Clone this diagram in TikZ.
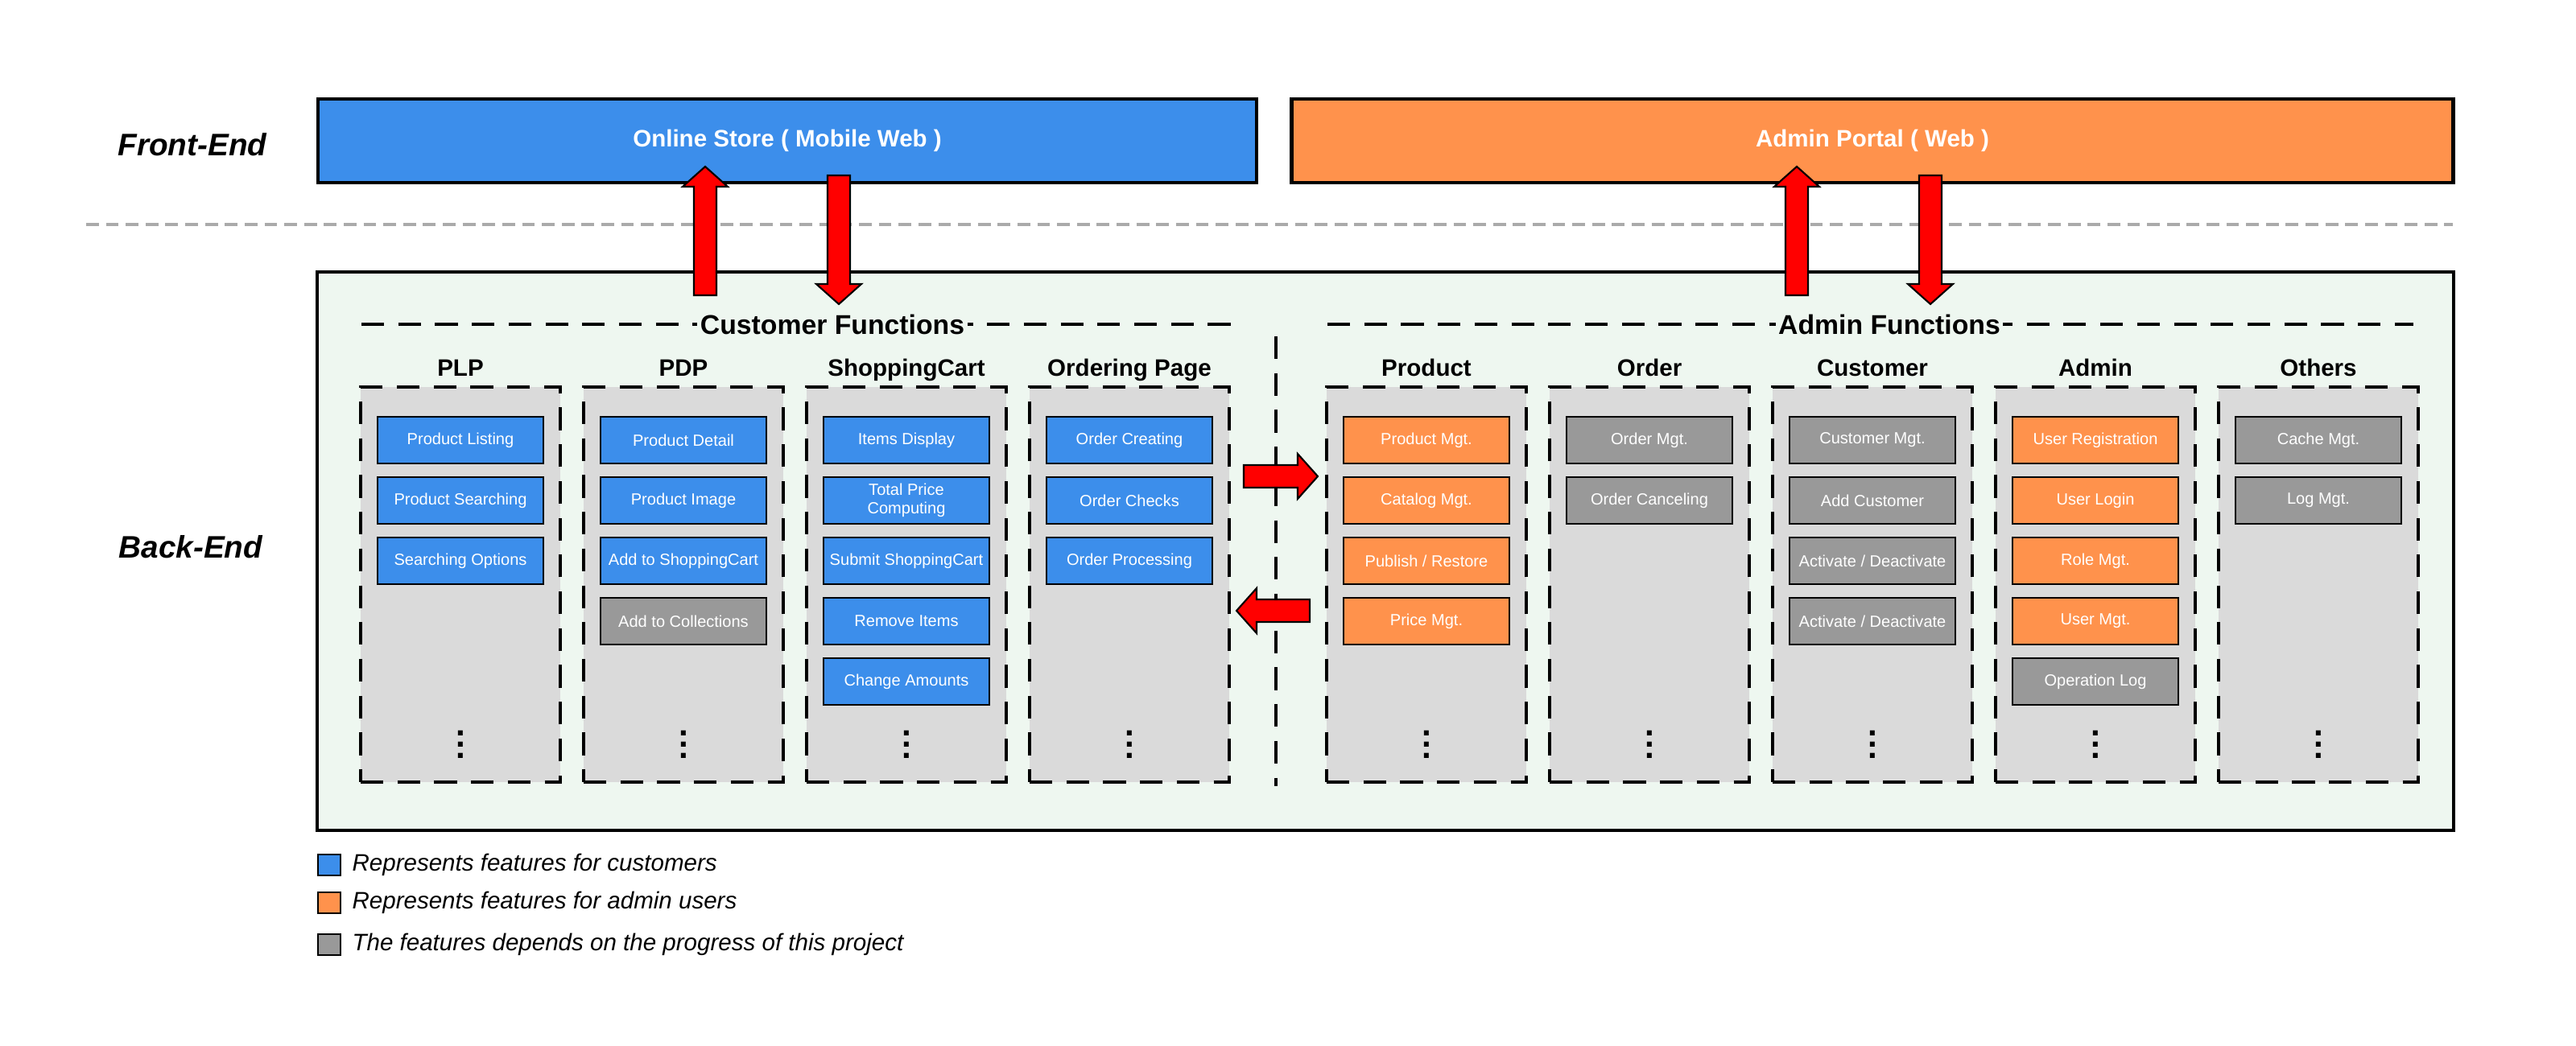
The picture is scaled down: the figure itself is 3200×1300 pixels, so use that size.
\documentclass[tikz,border=0pt]{standalone}
\usepackage{fontspec}
\setmainfont{Liberation Sans}
\usetikzlibrary{positioning}
\definecolor{cblue}{HTML}{3C8EEB}
\definecolor{corange}{HTML}{FF924C}
\definecolor{cgray}{HTML}{999999}
\definecolor{colbg}{HTML}{DADADA}
\definecolor{backbg}{HTML}{EEF7F0}
\definecolor{sepgray}{HTML}{AAAAAA}
\begin{document}
\begin{tikzpicture}[x=.01cm,y=-.01cm,
  lbl/.style={font=\fontsize{11}{13}\selectfont\bfseries\itshape},
  endbox/.style={draw,line width=1.2pt,text=white,minimum height=1.04cm,font=\fontsize{8.4}{10}\selectfont\bfseries},
  sectitle/.style={fill=backbg,inner sep=1pt,font=\fontsize{9.6}{11}\selectfont\bfseries},
  secdash/.style={line width=1.3pt,dash pattern=on 8pt off 5pt},
  colbox/.style={draw,fill=colbg,line width=1.1pt,dash pattern=on 8pt off 5pt,minimum width=2.48cm,minimum height=4.91cm},
  coltitle/.style={anchor=base,inner sep=0pt,font=\fontsize{8.4}{10}\selectfont\bfseries},
  feat/.style={draw,line width=.5pt,text=white,align=center,minimum width=2.06cm,minimum height=.58cm,inner sep=1pt,font=\fontsize{5.7}{6.6}\selectfont},
  legbox/.style={draw,line width=.5pt,minimum width=.28cm,minimum height=.26cm,inner sep=0pt},
  legtext/.style={right=.13cm of #1,inner sep=0pt,font=\fontsize{8.4}{10}\selectfont\itshape},
  arrbody/.style={fill=red,draw=black,line width=.6pt},
  pics/redarr/.style={code={\draw[arrbody] (0,-14) -- (#1-25,-14) -- (#1-25,-28) -- (#1,0) -- (#1-25,28) -- (#1-25,14) -- (0,14) -- cycle;}}]
\useasboundingbox[fill=white] (0,0) rectangle (3200,1300);
% layers
\node[lbl] (fe) at (239,180) {Front-End};
\node[lbl] (be) at (237,680) {Back-End};
\node[endbox,fill=cblue,minimum width=11.66cm] (store) at (978,175) {Online Store ( Mobile Web )};
\node[endbox,fill=corange,minimum width=14.42cm] (portal) at (2326,175) {Admin Portal ( Web )};
\draw[sepgray,line width=1pt,dash pattern=on 4.5pt off 2.5pt] (107,279) -- (3047,279);
\node[draw,fill=backbg,line width=1.2pt,minimum width=26.52cm,minimum height=6.94cm] (back) at (1721,685) {};
% function groups
\coordinate (cfl) at (449,403); \coordinate (cfr) at (1531,403);
\coordinate (afl) at (1649,403); \coordinate (afr) at (2998,403);
\draw[secdash] (cfl) -- (cfr);
\draw[secdash] (afl) -- (afr);
\node[sectitle] (cf) at (1034,403) {Customer Functions};
\node[sectitle] (af) at (2347,403) {Admin Functions};
\coordinate (sept) at (1585,418); \coordinate (sepb) at (1585,977);
\draw[line width=1.1pt,dash pattern=on 8pt off 5pt] (sept) -- (sepb);
% columns
\foreach \x/\ttl/\items [count=\i] in {
 572/PLP/{cblue/Product Listing,cblue/Product Searching,cblue/Searching Options},
 849/PDP/{cblue/Product Detail,cblue/Product Image,cblue/Add to ShoppingCart,cgray/Add to Collections},
 1126/ShoppingCart/{cblue/Items Display,cblue/Total Price\\Computing,cblue/Submit ShoppingCart,cblue/Remove Items,cblue/Change Amounts},
 1403/Ordering Page/{cblue/Order Creating,cblue/Order Checks,cblue/Order Processing},
 1772/Product/{corange/Product Mgt.,corange/Catalog Mgt.,corange/{Publish / Restore},corange/Price Mgt.},
 2049/Order/{cgray/Order Mgt.,cgray/Order Canceling},
 2326/Customer/{cgray/Customer Mgt.,cgray/Add Customer,cgray/{Activate / Deactivate},cgray/{Activate / Deactivate}},
 2603/Admin/{corange/User Registration,corange/User Login,corange/Role Mgt.,corange/User Mgt.,cgray/Operation Log},
 2880/Others/{cgray/Cache Mgt.,cgray/Log Mgt.}}{
  \node[colbox] (col\i) at (\x,726.5) {};
  \node[coltitle] (ttl\i) at (\x,467) {\ttl};
  \foreach \c/\t [count=\j] in \items
    \node[feat,fill=\c] (f\i-\j) at (\x,472+75*\j) {\t};
  \node[font=\fontsize{12}{12}\selectfont\bfseries] (dots\i) at (\x,915) {\vdots};
}
% arrows
\coordinate (up1) at (876,367); \coordinate (dn1) at (1042,218);
\coordinate (up2) at (2232,367); \coordinate (dn2) at (2398,218);
\coordinate (rt) at (1545,592); \coordinate (lt) at (1627,759);
\pic[rotate=90] at (up1) {redarr=160};
\pic[rotate=-90] at (dn1) {redarr=160};
\pic[rotate=90] at (up2) {redarr=160};
\pic[rotate=-90] at (dn2) {redarr=160};
\pic at (rt) {redarr=92};
\pic[rotate=180] at (lt) {redarr=91};
% legend
\node[legbox,fill=cblue] (l1) at (409,1075) {};
\node[legbox,fill=corange] (l2) at (409,1122) {};
\node[legbox,fill=cgray] (l3) at (409,1174) {};
\node[legtext=l1] (l1t) {Represents features for customers};
\node[legtext=l2] (l2t) {Represents features for admin users};
\node[legtext=l3] (l3t) {The features depends on the progress of this project};
\end{tikzpicture}
\end{document}
